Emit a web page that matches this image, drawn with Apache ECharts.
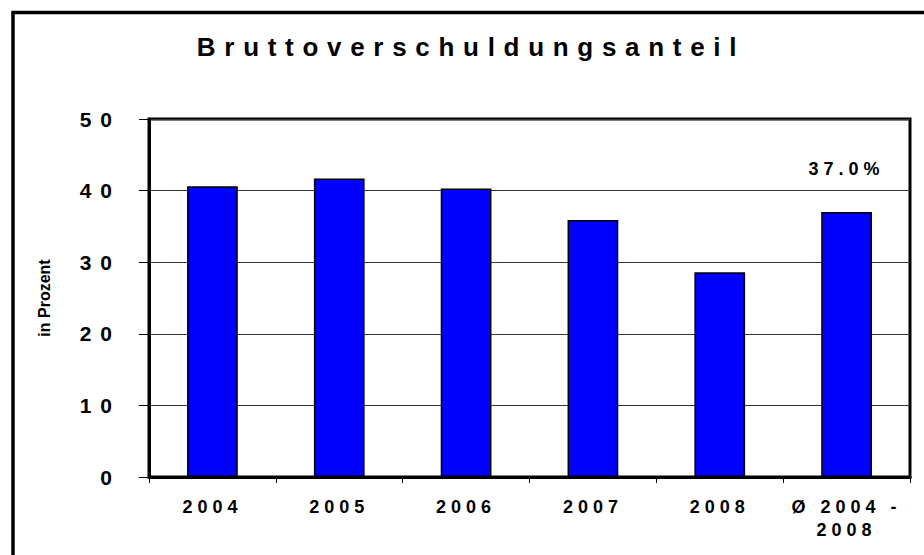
<!DOCTYPE html>
<html>
<head>
<meta charset="utf-8">
<script src="https://cdn.jsdelivr.net/npm/echarts@6/dist/echarts.min.js"></script>
<style>
  html, body { margin: 0; padding: 0; background: #fff; }
  #chart { width: 924px; height: 555px; }
</style>
</head>
<body>
<div id="chart"></div>
<script>
const titleText = 'Bruttoverschuldungsanteil';
const yAxisName = 'in Prozent';
const categories = ['2004', '2005', '2006', '2007', '2008', 'Ø 2004 -\n2008'];
const values = [40.6, 41.7, 40.3, 35.9, 28.6, 37.0];
const labelledIndex = 5;
const labelText = '37.0%';
const yMin = 0, yMax = 50, yStep = 10;

const FONT = 'Liberation Sans, Arial, sans-serif';

const chart = echarts.init(document.getElementById('chart'), null, { renderer: 'svg' });

const seriesData = values.map((v, i) => i === labelledIndex ? {
  value: v,
  label: {
    show: true, position: 'top', distance: 34,
    formatter: () => labelText,
    color: '#000', fontFamily: FONT, fontWeight: 'bold', fontSize: 18
  }
} : v);

chart.setOption({
  animation: false,
  backgroundColor: '#fff',
  title: {
    text: titleText,
    left: 466, top: 29, textAlign: 'center',
    textStyle: { fontFamily: FONT, fontWeight: 'bold', fontSize: 26, color: '#000' }
  },
  graphic: [{
    type: 'polyline',
    shape: { points: [[13, 555], [13, 12.5], [924, 12.5]] },
    style: { stroke: '#000', lineWidth: 3.5, fill: null }
  }],
  grid: {
    left: 149, right: 14, top: 119, bottom: 78,
    show: true, borderColor: '#000', borderWidth: 3, backgroundColor: 'transparent'
  },
  xAxis: {
    type: 'category',
    data: categories,
    axisLine: { show: true, lineStyle: { color: '#000', width: 3 } },
    axisTick: { show: true, length: 6, lineStyle: { color: '#000', width: 1 } },
    axisLabel: {
      margin: 18, color: '#000', fontFamily: FONT, fontWeight: 'bold', fontSize: 18, lineHeight: 23
    }
  },
  yAxis: {
    type: 'value',
    min: yMin, max: yMax, interval: yStep,
    name: yAxisName,
    nameLocation: 'middle', nameRotate: 90, nameGap: 97,
    nameTextStyle: { fontFamily: FONT, fontWeight: 'bold', fontSize: 16, color: '#000' },
    axisLine: { show: true, lineStyle: { color: '#000', width: 3 } },
    axisTick: { show: true, length: 10, lineStyle: { color: '#000', width: 1 } },
    axisLabel: {
      margin: 28, color: '#000', fontFamily: FONT, fontWeight: 'bold', fontSize: 21
    },
    splitLine: { show: true, lineStyle: { color: '#333', width: 1 } }
  },
  series: [{
    type: 'bar',
    data: seriesData,
    barWidth: '40%',
    itemStyle: { color: '#0000FF', borderColor: '#000', borderWidth: 1.5 }
  }]
});

function applySpacing() {
  const map = {};
  map[titleText] = 8.7;
  map[labelText] = 5;
  categories.forEach(c => c.split('\n').forEach(p => map[p] = 5));
  for (let v = yMin; v <= yMax; v += yStep) map[String(v)] = 9;
  document.querySelectorAll('#chart text').forEach(t => {
    const s = t.textContent;
    if (map[s] !== undefined) t.setAttribute('letter-spacing', map[s] + 'px');
  });
}
applySpacing();
chart.on('finished', applySpacing);
setTimeout(applySpacing, 50);
</script>
</body>
</html>
